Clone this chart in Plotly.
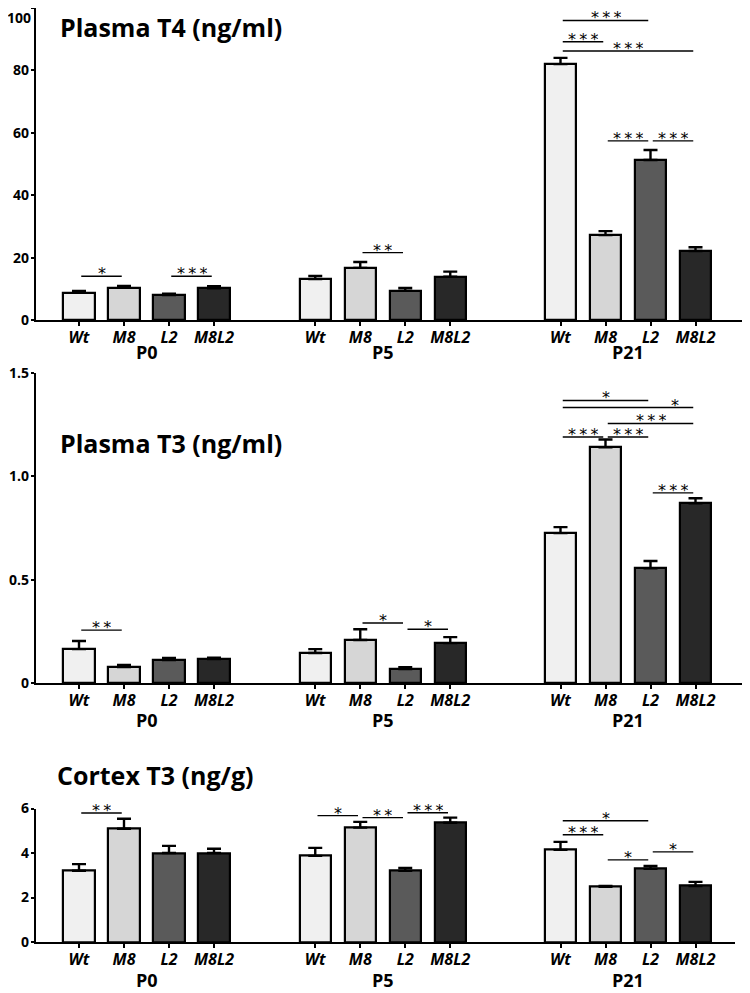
import plotly.graph_objects as go

# ---------------- data ----------------
ages = ["P0", "P5", "P21"]
genotypes = ["Wt", "M8", "L2", "M8L2"]

t4_mean = [8.7, 10.3, 8.0, 10.2, 13.1, 16.7, 9.4, 13.9, 82.0, 27.2, 51.3, 22.1]
t4_sem = [0.6, 0.6, 0.4, 0.6, 1.0, 1.9, 0.9, 1.6, 2.0, 1.3, 3.2, 1.2]

t3_mean = [0.164, 0.077, 0.111, 0.116, 0.145, 0.208, 0.068, 0.193, 0.725, 1.14, 0.555, 0.87]
t3_sem = [0.039, 0.010, 0.010, 0.006, 0.019, 0.052, 0.009, 0.029, 0.029, 0.038, 0.035, 0.024]

ctx_mean = [3.2, 5.09, 4.0, 4.0, 3.87, 5.14, 3.2, 5.36, 4.14, 2.48, 3.29, 2.52]
ctx_sem = [0.30, 0.45, 0.32, 0.19, 0.36, 0.26, 0.13, 0.23, 0.36, 0.04, 0.13, 0.18]

titles = ["Plasma T4 (ng/ml)", "Plasma T3 (ng/ml)", "Cortex T3 (ng/g)"]

t4_ticks = [0, 20, 40, 60, 80, 100]
t4_ticktext = ["0", "20", "40", "60", "80", "100"]
t3_ticks = [0, 0.5, 1.0, 1.5]
t3_ticktext = ["0", "0.5", "1.0", "1.5"]
ctx_ticks = [0, 2, 4, 6]
ctx_ticktext = ["0", "2", "4", "6"]

# significance: (age index, genotype from, genotype to, y level, label)
t4_sig = [
    (0, 0, 1, 14.0, "*"), (0, 2, 3, 14.0, "***"),
    (1, 1, 2, 21.6, "**"),
    (2, 0, 2, 96.0, "***"), (2, 0, 1, 89.2, "***"), (2, 0, 3, 86.2, "***"),
    (2, 1, 2, 57.4, "***"), (2, 2, 3, 57.4, "***"),
]
t3_sig = [
    (0, 0, 1, 0.256, "**"),
    (1, 1, 2, 0.29, "*"), (1, 2, 3, 0.26, "*"),
    (2, 0, 2, 1.367, "*"), (2, 0, 3, 1.333, "*"),
    (2, 1, 3, 1.256, "***"), (2, 1, 2, 1.19, "***"), (2, 0, 1, 1.19, "***"),
    (2, 2, 3, 0.92, "***"),
]
ctx_sig = [
    (0, 0, 1, 5.8, "**"),
    (1, 0, 3, 6.53, "**"), (1, 0, 1, 5.68, "*"), (1, 1, 2, 5.59, "**"), (1, 2, 3, 5.81, "***"),
    (2, 0, 3, 6.17, "***"), (2, 0, 2, 5.45, "*"), (2, 0, 1, 4.82, "***"),
    (2, 1, 2, 3.69, "*"), (2, 2, 3, 4.05, "*"),
]

# ---------------- layout constants ----------------
FONT = "Open Sans"
STAR_FONT = "DejaVu Sans"
OFF = 8                       # page body margin offset (px)
W, H = 750 - OFF, 993 - OFF   # figure size so the page fits the window
group_offset = [0.0, 5.25, 10.7]
bar_w = 0.69
colors = ["#f0f0f0", "#d6d6d6", "#5a5a5a", "#282828"]
YTICK_SIZE = 14

xs = [group_offset[g] + i for g in range(3) for i in range(4)]
bar_colors = [colors[i] for g in range(3) for i in range(4)]

label_frac = {(1, 2, 0, 3): 0.86}

# geometry in screen pixels
panels = [
    dict(mean=t4_mean, sem=t4_sem, rng=[0, 100], ticks=t4_ticks, ttext=t4_ticktext,
         sig=t4_sig, y0=320, y1=8, xr=745, title_y=27, title_x=58, glab=32),
    dict(mean=t3_mean, sem=t3_sem, rng=[0, 1.5], ticks=t3_ticks, ttext=t3_ticktext,
         sig=t3_sig, y0=683, y1=373, xr=745, title_y=443, title_x=58, glab=37),
    dict(mean=ctx_mean, sem=ctx_sem, rng=[0, 6], ticks=ctx_ticks, ttext=ctx_ticktext,
         sig=ctx_sig, y0=942, y1=808.5, xr=735, title_y=775, title_x=55, glab=38),
]

px_per_unit = 45.0
x_left_px = 36
x_zero_px = 79


def fx(px):
    return (px - OFF) / W


def fy(py):
    return 1 - (py - OFF) / H


fig = go.Figure()
annotations = []
shapes = []

for k, p in enumerate(panels):
    n = "" if k == 0 else str(k + 1)
    xa, ya = "x" + n, "y" + n
    xr_units = (p["xr"] - x_zero_px) / px_per_unit
    xl_units = (x_left_px - x_zero_px) / px_per_unit
    fig.add_trace(go.Bar(
        x=xs, y=p["mean"], width=bar_w,
        marker=dict(color=bar_colors, line=dict(color="black", width=2.2)),
        error_y=dict(type="data", array=p["sem"], arrayminus=[0] * 12, symmetric=False,
                     color="black", thickness=2.4, width=7),
        xaxis=xa, yaxis=ya, showlegend=False, hoverinfo="skip",
    ))
    fig.layout["xaxis" + n] = dict(
        domain=[fx(x_left_px), fx(p["xr"])], range=[xl_units, xr_units],
        showgrid=False, zeroline=False, showline=True, linecolor="black", linewidth=2.2,
        ticks="outside", ticklen=4, tickwidth=1.5, tickcolor="black", automargin=False,
        ticklabelstandoff=-2,
        tickvals=xs, ticktext=["<b><i>%s</i></b>" % genotypes[i % 4] for i in range(12)],
        tickfont=dict(family=FONT, size=16, color="black"), anchor=ya, fixedrange=True,
    )
    ttext = list(p["ttext"])
    if k == 0:
        top_label = ttext[-1]
        ttext[-1] = ""
        annotations.append(dict(
            x=fx(33), y=p["ticks"][-1], xref="paper", yref=ya, text="<b>%s</b>" % top_label,
            showarrow=False, xanchor="right", yanchor="middle", yshift=-9,
            font=dict(family=FONT, size=YTICK_SIZE, color="black")))
    fig.layout["yaxis" + n] = dict(
        domain=[fy(p["y0"]), fy(p["y1"])], range=p["rng"],
        showgrid=False, zeroline=False, showline=True, linecolor="black", linewidth=2.2,
        ticks="outside", ticklen=3, tickwidth=2, tickcolor="black", automargin=False,
        ticklabelstandoff=-1,
        tickvals=p["ticks"], ticktext=["<b>%s</b>" % t if t else "" for t in ttext],
        tickfont=dict(family=FONT, size=YTICK_SIZE, color="black"), anchor=xa, fixedrange=True,
    )
    for g, age in enumerate(ages):
        annotations.append(dict(
            x=group_offset[g] + 1.5, y=0, xref=xa, yref=ya + " domain",
            text="<b>%s</b>" % age, showarrow=False, yanchor="middle",
            yshift=-p["glab"], font=dict(family=FONT, size=18, color="black")))
    annotations.append(dict(
        x=fx(p["title_x"]), y=fy(p["title_y"]), xref="paper", yref="paper",
        text="<b>%s</b>" % titles[k], showarrow=False, xanchor="left", yanchor="middle",
        font=dict(family=FONT, size=25, color="black")))
    for (g, i0, i1, yv, lab) in p["sig"]:
        x0 = group_offset[g] + i0 + 0.05
        x1 = group_offset[g] + i1 - 0.05
        shapes.append(dict(type="line", xref=xa, yref=ya, x0=x0, x1=x1, y0=yv, y1=yv,
                           line=dict(color="black", width=1.4)))
        f = label_frac.get((k, g, i0, i1), 0.5)
        annotations.append(dict(
            x=x0 + (x1 - x0) * f, y=yv, xref=xa, yref=ya, text="\u2009".join(lab),
            showarrow=False, yanchor="bottom", yshift=-5, height=15, valign="top",
            font=dict(family=STAR_FONT, size=16, color="black")))

fig.update_layout(
    width=W, height=H, margin=dict(l=0, r=0, t=0, b=0),
    paper_bgcolor="white", plot_bgcolor="white",
    annotations=annotations, shapes=shapes, bargap=0,
)

fig.write_html("out.html")
